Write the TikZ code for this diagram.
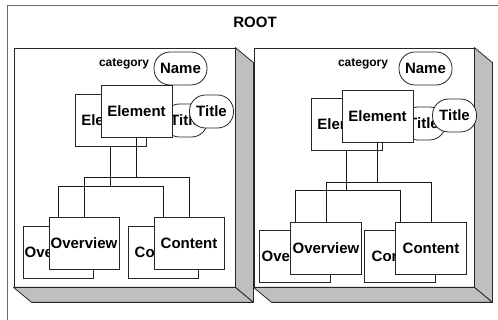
\documentclass[tikz,border=0pt]{standalone}
\usepackage{fontspec}
\setsansfont{Liberation Sans}
\usetikzlibrary{positioning,calc}
\tikzset{
  fork/.style={
    to path={
      (\tikztostart) |- ($(\tikztostart)!.5!(\tikztotarget)$) -| (\tikztotarget)
      \tikztonodes
    }
  },
}

\begin{document}
\begin{tikzpicture}[
    x=1pt, y=-1pt,
    frame/.style={draw=black!60, line width=1pt},
    panel/.style={draw=black!85, fill=white, line width=.8pt, inner sep=0pt},
    side/.style={draw=black!85, fill=black!25, line width=.8pt, line join=round},
    item/.style={draw=black!85, fill=white, line width=.8pt, inner sep=0pt,
      minimum width=71pt, minimum height=52pt,
      font=\sffamily\bfseries\fontsize{15}{16}\selectfont},
    attr/.style={item, minimum width=44pt, minimum height=33pt, rounded corners=16pt},
    catname/.style={font=\sffamily\bfseries\fontsize{12}{13}\selectfont},
    link/.style={draw=black!90, line width=1pt}
  ]
    \useasboundingbox (0,0) rectangle (498,320);
    \clip (0,0) rectangle (498,320);

    \draw[frame] (7,340) |- (520,6);
    \node (root) [font=\sffamily\bfseries\fontsize{15}{16}\selectfont] at (255,22) {ROOT};

    % left category
    \node (panelL) [panel, minimum width=221pt, minimum height=239pt] at (124.5,167.5) {};
    \filldraw[side] (panelL.north east) -- ++(18,15) -- ($(panelL.south east)+(18,15)$) -- (panelL.south east) -- cycle;
    \filldraw[side] (panelL.south west) -- ++(18,15) -- ($(panelL.south east)+(18,15)$) -- (panelL.south east) -- cycle;

    \node (elemL-b) [item] at (110.5,120.5) {Element};
    \node (titleL-b) [attr] at (185.5,120.5) {Title};
    \node (ovL-b) [item, minimum width=70pt] at (58,252) {Overview};
    \node (conL-b) [item, minimum width=70pt] at (163,252) {Content};
    \draw[link] (elemL-b.south) to[fork] (ovL-b.north);
    \draw[link] (elemL-b.south) to[fork] (conL-b.north);

    \node (elemL) [item, xshift=26pt, yshift=9pt] at (elemL-b) {Element};
    \node (titleL) [attr, xshift=26pt, yshift=9pt] at (titleL-b) {Title};
    \node (nameL) [attr, minimum width=53pt] at (180.5,68.5) {Name};
    \node (catL) [catname, left=1pt of nameL, yshift=5pt] {category};
    \node (ovL) [item, minimum width=70pt, xshift=26pt, yshift=9pt] at (ovL-b) {Overview};
    \node (conL) [item, minimum width=70pt, xshift=26pt, yshift=9pt] at (conL-b) {Content};
    \draw[link] (elemL.south) to[fork] (ovL.north);
    \draw[link] (elemL.south) to[fork] (conL.north);

    % right category
    \node (panelR) [panel, minimum width=220pt, minimum height=239pt] at (364,167.5) {};
    \filldraw[side] (panelR.north east) -- ++(18,15) -- ($(panelR.south east)+(18,15)$) -- (panelR.south east) -- cycle;
    \filldraw[side] (panelR.south west) -- ++(18,15) -- ($(panelR.south east)+(18,15)$) -- (panelR.south east) -- cycle;

    \node (elemR-b) [item] at (346.5,124.5) {Element};
    \node (titleR-b) [attr] at (423.5,123.5) {Title};
    \node (ovR-b) [item] at (295,256.5) {Overview};
    \node (conR-b) [item] at (400,256.5) {Content};
    \draw[link] (elemR-b.south) to[fork] (ovR-b.north);
    \draw[link] (elemR-b.south) to[fork] (conR-b.north);

    \node (elemR) [item, xshift=31pt, yshift=8pt] at (elemR-b) {Element};
    \node (titleR) [attr, xshift=31pt, yshift=8pt] at (titleR-b) {Title};
    \node (nameR) [attr, minimum width=53pt] at (425.5,68.5) {Name};
    \node (catR) [catname, left=7pt of nameR, yshift=5pt] {category};
    \node (ovR) [item, xshift=31pt, yshift=8pt] at (ovR-b) {Overview};
    \node (conR) [item, xshift=31pt, yshift=8pt] at (conR-b) {Content};
    \draw[link] (elemR.south) to[fork] (ovR.north);
    \draw[link] (elemR.south) to[fork] (conR.north);
  \end{tikzpicture}
\end{document}
